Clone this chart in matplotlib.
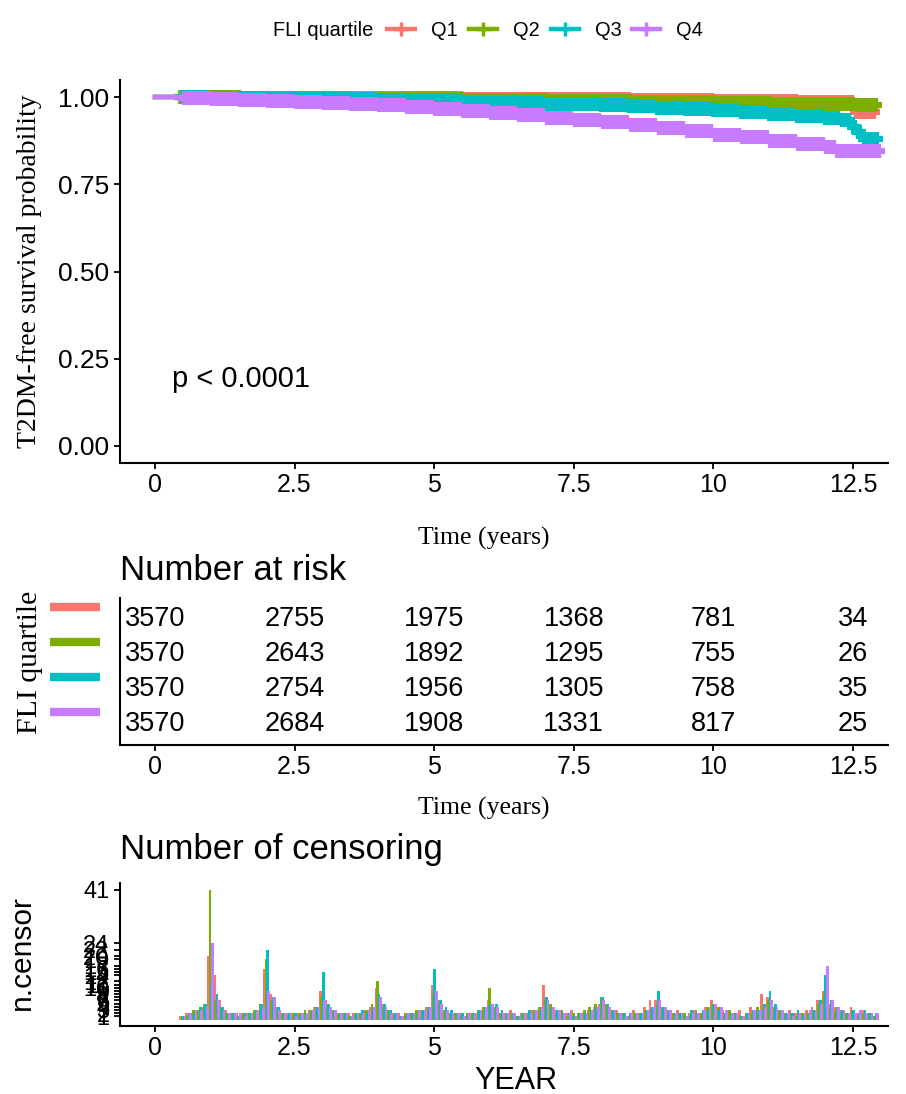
import numpy as np
import matplotlib
matplotlib.use("Agg")
import matplotlib.pyplot as plt
import matplotlib.transforms as mtransforms
from matplotlib.lines import Line2D

plt.rcParams['font.family'] = ['Liberation Sans', 'DejaVu Sans']

groups = ["Q1", "Q2", "Q3", "Q4"]
colors = ["#F8766D", "#7CAE00", "#00BFC4", "#C77CFF"]

# Kaplan-Meier steps
km_t_q1 = [0, 0.5, 1, 1.5, 2, 2.5, 3, 3.5, 4, 4.5, 5, 5.5, 6, 6.5, 7, 7.5, 8, 8.5, 9, 9.5,
           10, 10.5, 11, 11.5, 12, 12.55, 12.9]
km_s_q1 = [1, 1, 1, .999, .999, .999, .998, .998, .998, .997, .997, .996, .996, .995, .995, .994,
           .994, .993, .992, .992, .991, .990, .989, .988, .987, .957, .957]
km_t_q2 = [0, 0.5, 1, 1.5, 2, 2.5, 3, 3.5, 4, 4.5, 5, 5.5, 6, 6.5, 7, 7.5, 8, 8.5, 9, 9.5,
           10, 10.5, 11, 11.5, 12, 12.5, 12.9]
km_s_q2 = [1, 1, 1, .999, .998, .998, .997, .996, .996, .995, .994, .993, .993, .992, .991, .990,
           .989, .988, .987, .986, .985, .984, .982, .981, .980, .978, .978]
km_t_q3 = [0, 0.5, 1, 1.5, 2, 2.5, 3, 3.5, 4, 4.5, 5, 5.5, 6, 6.5, 7, 7.5, 8, 8.5, 9, 9.5,
           10, 10.5, 11, 11.5, 12, 12.3, 12.5, 12.6, 12.7, 12.9]
km_s_q3 = [1, 1, .999, .998, .997, .996, .995, .994, .993, .991, .990, .988, .986, .984, .982, .980,
           .977, .974, .970, .967, .963, .958, .953, .948, .942, .935, .915, .900, .880, .880]
km_t_q4 = [0, 0.5, 1, 1.5, 2, 2.5, 3, 3.5, 4, 4.5, 5, 5.5, 6, 6.5, 7, 7.5, 8, 8.5, 9, 9.5,
           10, 10.5, 11, 11.5, 12, 12.2, 12.9]
km_s_q4 = [1, .999, .996, .993, .990, .987, .984, .980, .977, .972, .966, .961, .955, .949, .942, .935,
           .928, .921, .912, .903, .893, .885, .876, .867, .858, .845, .845]

# number at risk
risk_times = [0, 2.5, 5, 7.5, 10, 12.5]
risk_q1 = [3570, 2755, 1975, 1368, 781, 34]
risk_q2 = [3570, 2643, 1892, 1295, 755, 26]
risk_q3 = [3570, 2754, 1956, 1305, 758, 35]
risk_q4 = [3570, 2684, 1908, 1331, 817, 25]

# censoring counts in 0.1-year bins from 0.5 to 12.9
cens_start, cens_step = 0.5, 0.1
cens_q1 = [1, 2, 2, 3, 4,
           20, 14, 6, 3, 2, 2, 1, 2, 2, 3,
           16, 8, 4, 2, 2, 1, 2, 2, 3, 4,
           9, 6, 3, 2, 1, 2, 2, 2, 3, 4,
           10, 5, 3, 2, 2, 1, 2, 2, 3, 4,
           11, 6, 3, 2, 2, 2, 1, 2, 2, 3,
           6, 4, 2, 2, 3, 1, 2, 2, 3, 3,
           11, 5, 3, 2, 2, 3, 1, 2, 3, 4,
           5, 4, 2, 3, 2, 1, 3, 2, 4, 6,
           6, 4, 3, 2, 3, 1, 2, 3, 2, 4,
           6, 4, 3, 2, 2, 3, 1, 4, 3, 8,
           7, 4, 3, 2, 3, 2, 2, 3, 4, 6,
           9, 5, 4, 3, 2, 4, 2, 3, 2, 1]
cens_q2 = [1, 1, 3, 3, 5,
           41, 6, 4, 2, 2, 1, 2, 2, 3, 5,
           19, 6, 3, 2, 1, 2, 2, 3, 3, 4,
           7, 4, 3, 2, 2, 1, 2, 2, 3, 5,
           12, 4, 3, 2, 1, 2, 2, 3, 3, 4,
           8, 5, 3, 2, 2, 1, 2, 2, 3, 4,
           10, 4, 2, 2, 2, 1, 2, 2, 3, 4,
           6, 5, 2, 3, 1, 2, 2, 3, 4, 5,
           7, 5, 3, 2, 2, 1, 2, 2, 3, 3,
           5, 4, 3, 2, 2, 2, 1, 3, 2, 4,
           5, 4, 2, 3, 2, 1, 2, 2, 4, 4,
           6, 4, 3, 2, 2, 1, 2, 2, 3, 5,
           8, 4, 3, 2, 2, 3, 1, 2, 2, 1]
cens_q3 = [1, 2, 2, 4, 5,
           11, 8, 4, 2, 2, 1, 2, 2, 3, 5,
           22, 7, 4, 2, 2, 2, 1, 2, 3, 4,
           15, 5, 3, 2, 2, 1, 2, 3, 2, 4,
           8, 5, 3, 2, 1, 2, 2, 2, 3, 4,
           16, 6, 4, 3, 2, 2, 1, 2, 3, 4,
           5, 5, 3, 2, 2, 1, 2, 3, 2, 3,
           7, 4, 3, 2, 2, 1, 2, 2, 3, 4,
           7, 5, 3, 2, 2, 2, 1, 2, 3, 4,
           9, 4, 3, 2, 2, 1, 3, 2, 3, 3,
           5, 3, 2, 2, 2, 1, 2, 3, 3, 5,
           9, 5, 3, 2, 2, 3, 1, 2, 3, 6,
           14, 6, 4, 3, 2, 3, 2, 3, 2, 2]
cens_q4 = [1, 2, 3, 3, 4,
           24, 6, 3, 2, 2, 2, 1, 2, 3, 4,
           9, 7, 3, 2, 2, 1, 2, 2, 3, 4,
           6, 4, 3, 2, 2, 1, 2, 2, 3, 4,
           7, 4, 2, 2, 1, 2, 2, 3, 3, 4,
           9, 5, 3, 2, 2, 1, 2, 2, 3, 4,
           5, 4, 2, 2, 2, 1, 2, 2, 3, 4,
           6, 4, 3, 2, 2, 1, 2, 2, 3, 4,
           6, 4, 3, 2, 1, 2, 2, 2, 3, 4,
           6, 4, 3, 2, 2, 1, 2, 2, 3, 4,
           5, 4, 3, 2, 2, 1, 2, 3, 3, 4,
           6, 4, 3, 2, 1, 2, 2, 3, 3, 5,
           17, 6, 4, 3, 2, 2, 3, 2, 2, 2]

xticks = [0, 2.5, 5, 7.5, 10, 12.5]
xlabels = ["0", "2.5", "5", "7.5", "10", "12.5"]

km_t = [km_t_q1, km_t_q2, km_t_q3, km_t_q4]
km_s = [km_s_q1, km_s_q2, km_s_q3, km_s_q4]
risk = [risk_q1, risk_q2, risk_q3, risk_q4]
cens = [cens_q1, cens_q2, cens_q3, cens_q4]
cens_time = np.round(cens_start + cens_step * np.arange(len(cens_q1)), 2)

W, H = 906, 1094
fig = plt.figure(figsize=(W / 100, H / 100), dpi=100)


def box(l, t, r, b):
    return [l / W, 1 - b / H, (r - l) / W, (b - t) / H]


def style(ax):
    for s in ["top", "right"]:
        ax.spines[s].set_visible(False)
    for s in ["left", "bottom"]:
        ax.spines[s].set_linewidth(1.5)
    ax.tick_params(direction="out", length=4, width=1.3, color="black", labelcolor="black")
    ax.set_xlim(-0.625, 13.125)
    ax.set_xticks(xticks)
    ax.set_xticklabels(xlabels, fontsize=18)


ax1 = fig.add_axes(box(120, 80, 888, 463))
ax2 = fig.add_axes(box(120, 598, 888, 745))
ax3 = fig.add_axes(box(120, 883, 888, 1026))

# survival curves with dense censor marks
style(ax1)
for g in range(4):
    t = np.array(km_t[g])
    s = np.array(km_s[g])
    ax1.plot(t, s, drawstyle="steps-post", color=colors[g], lw=3.2, zorder=2 + g * 0.1)
    ct = cens_time + (g - 1.5) * 0.025
    idx = np.searchsorted(t, ct, side="right") - 1
    ax1.plot(ct, s[idx], ls="none", marker="+", ms=10, mew=4.5, color=colors[g], zorder=2 + g * 0.1)
ax1.set_ylim(-0.05, 1.05)
ax1.set_yticks([0, 0.25, 0.5, 0.75, 1.0])
ax1.set_yticklabels(["0.00", "0.25", "0.50", "0.75", "1.00"], fontsize=19)
ax1.text(0.3, 0.19, "p < 0.0001", fontsize=21, va="center", ha="left")
fig.text(484 / W, 1 - 538 / H, "Time (years)", family="Liberation Serif", fontsize=18.5,
         ha="center", va="center")
fig.text(30 / W, 1 - 271 / H, "T2DM-free survival probability", family="Liberation Serif",
         fontsize=20, rotation=90, ha="center", va="center")

# legend
fig.text(273 / W, 1 - 30 / H, "FLI quartile", fontsize=14.4, ha="left", va="center")
handles = [Line2D([0], [0], color=c, lw=3.2, marker="+", ms=10, mew=2.5) for c in colors]
fig.legend(handles, groups, loc="center left", bbox_to_anchor=(387 / W, 1 - 30 / H),
           bbox_transform=fig.transFigure, ncol=4, frameon=False, fontsize=14.4,
           handlelength=1.4, handletextpad=0.8, columnspacing=0.55, borderpad=0, borderaxespad=0)

# risk table
style(ax2)
ax2.set_ylim(0.4, 4.6)
ax2.set_yticks([])
tr = mtransforms.blended_transform_factory(ax2.transAxes, ax2.transData)
for g in range(4):
    level = 4 - g
    for t, n in zip(risk_times, risk[g]):
        ax2.text(t, level, str(n), fontsize=19.5, ha="center", va="center")
    ax2.plot([-0.091, -0.026], [level + 0.34, level + 0.34], color=colors[g], lw=6,
             transform=tr, clip_on=False, solid_capstyle="butt")
fig.text(120 / W, 1 - 570 / H, "Number at risk", fontsize=25, ha="left", va="center")
fig.text(484 / W, 1 - 808 / H, "Time (years)", family="Liberation Serif", fontsize=18.5,
         ha="center", va="center")
fig.text(30 / W, 1 - 662 / H, "FLI quartile", family="Liberation Serif",
         fontsize=21.5, rotation=90, ha="center", va="center")

# censoring
style(ax3)
for g in range(4):
    ax3.bar(cens_time + (g - 1.5) * 0.025, cens[g], width=0.05, color=colors[g], lw=0)
ax3.set_ylim(-2.05, 43.05)
ticks = sorted(set(v for c in cens for v in c))
ax3.set_yticks(ticks)
ax3.set_yticklabels([str(v) for v in ticks], fontsize=17)
fig.text(120 / W, 1 - 850 / H, "Number of censoring", fontsize=25, ha="left", va="center")
fig.text(516 / W, 1 - 1081 / H, "YEAR", fontsize=22, ha="center", va="center")
fig.text(22 / W, 1 - 953 / H, "n.censor", fontsize=21.5, rotation=90, ha="center", va="center")

fig.savefig("out.png", dpi=100, facecolor="white")
